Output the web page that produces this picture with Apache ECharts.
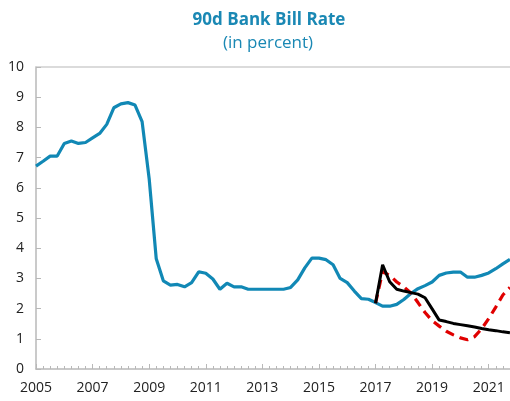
<!DOCTYPE html>
<html>
<head>
<meta charset="utf-8">
<script src="https://cdn.jsdelivr.net/npm/echarts@6/dist/echarts.min.js"></script>
<style>html,body{margin:0;padding:0;background:#fff}#c{width:510px;height:401px}</style>
</head>
<body>
<div id="c"></div>
<script>
const titleText = '90d Bank Bill Rate';
const subtitleText = '(in percent)';
const blueStart = 2005;
const blueValues = [6.72,6.88,7.05,7.05,7.47,7.55,7.47,7.50,7.65,7.80,8.10,8.65,8.78,8.82,8.74,8.19,
  6.30,3.65,2.92,2.78,2.80,2.72,2.86,3.22,3.17,2.98,2.64,2.84,2.72,2.72,2.64,2.64,
  2.64,2.64,2.64,2.64,2.70,2.95,3.35,3.67,3.67,3.62,3.45,3.00,2.86,2.58,2.33,2.31,
  2.20,2.08,2.08,2.14,2.30,2.50,2.66,2.76,2.88,3.10,3.18,3.21,3.21,3.04,3.04,3.10,
  3.18,3.32,3.48,3.63];
const blackStart = 2017;
const blackValues = [2.18,3.45,2.89,2.64,2.58,2.53,2.48,2.36,1.99,1.62,1.57,1.51,1.47,1.43,1.39,1.34,1.30,1.27,1.23,1.20];
const redStart = 2017;
const redValues = [2.18,3.22,3.10,2.88,2.72,2.52,2.20,1.87,1.60,1.42,1.25,1.13,1.03,0.97,1.07,1.33,1.67,2.05,2.45,2.70];

function toPairs(start, vals){ return vals.map((v,i)=>[start + i*0.25, v]); }

const chart = echarts.init(document.getElementById('c'), null, {renderer:'canvas'});
const font = '"Open Sans", "DejaVu Sans", sans-serif';
const axisGray = '#b8b8b8';
chart.setOption({
  animation:false,
  title:[
    {text:titleText, left:264, top:7, textAlign:'center',
     textStyle:{fontFamily:font, fontSize:17, fontWeight:'bold', color:'#1a88b4'}},
    {text:subtitleText, left:263, top:30, textAlign:'center',
     textStyle:{fontFamily:font, fontSize:17, fontWeight:'normal', color:'#1a88b4'}}
  ],
  grid:{left:36, width:481, top:67, height:302, containLabel:false, outerBoundsMode:'none'},
  xAxis:[{
    type:'value', min:2005, max:2022, interval:2,
    axisLine:{show:true, lineStyle:{color:axisGray, width:1.5}},
    axisTick:{show:true, inside:true, length:5, lineStyle:{color:axisGray}},
    minorTick:{show:true, splitNumber:8, length:3, lineStyle:{color:axisGray}},
    splitLine:{show:false},
    axisLabel:{margin:12, fontFamily:font, fontSize:14, color:'#222', showMaxLabel:false,
      formatter:v=>String(v)}
  },{
    type:'value', position:'top', min:2005, max:2022,
    axisLine:{show:true, lineStyle:{color:'#cfcfcf', width:1.5}},
    axisTick:{show:false}, axisLabel:{show:false}, splitLine:{show:false}
  }],
  yAxis:{
    type:'value', min:0, max:10, interval:1,
    axisLine:{show:true, lineStyle:{color:axisGray, width:1.5}},
    axisTick:{show:true, inside:true, length:5, lineStyle:{color:axisGray}},
    splitLine:{show:false},
    axisLabel:{margin:12, fontFamily:font, fontSize:14, color:'#222'}
  },
  series:[
    {type:'line', data:toPairs(blueStart, blueValues), showSymbol:false, smooth:false,
     lineStyle:{color:'#1188b5', width:3.2}},
    {type:'line', data:toPairs(redStart, redValues), showSymbol:false,
     lineStyle:{color:'#e00000', width:3.2, type:[9,6]}},
    {type:'line', data:toPairs(blackStart, blackValues), showSymbol:false,
     lineStyle:{color:'#000', width:3}}
  ]
});
</script>
</body>
</html>
